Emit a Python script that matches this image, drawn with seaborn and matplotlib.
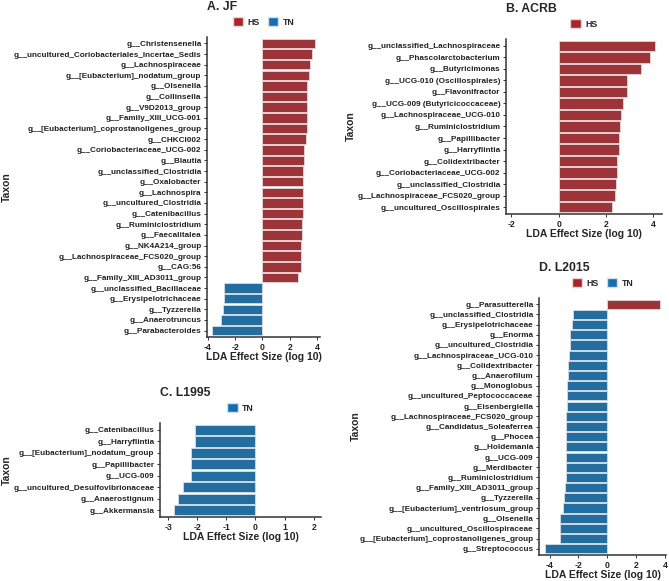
import numpy as np
import pandas as pd
import matplotlib
matplotlib.use("Agg")
import matplotlib.pyplot as plt
import seaborn as sns
from matplotlib.patches import Patch

# ── Panel data (top-to-bottom order as in figure) ─────────────────────────────
jf_taxa = [
    "g__Christensenella", "g__uncultured_Coriobacteriales_Incertae_Sedis",
    "g__Lachnospiraceae", "g__[Eubacterium]_nodatum_group", "g__Olsenella",
    "g__Collinsella", "g__V9D2013_group", "g__Family_XIII_UCG-001",
    "g__[Eubacterium]_coprostanoligenes_group", "g__CHKCI002",
    "g__Coriobacteriaceae_UCG-002", "g__Blautia", "g__unclassified_Clostridia",
    "g__Oxalobacter", "g__Lachnospira", "g__uncultured_Clostridia",
    "g__Catenibacillus", "g__Ruminiclostridium", "g__Faecalitalea",
    "g__NK4A214_group", "g__Lachnospiraceae_FCS020_group", "g__CAG:56",
    "g__Family_XIII_AD3011_group", "g__unclassified_Bacillaceae",
    "g__Erysipelotrichaceae", "g__Tyzzerella", "g__Anaerotruncus",
    "g__Parabacteroides",
]
jf_lda = [3.85, 3.61, 3.49, 3.39, 3.29, 3.29, 3.24, 3.24, 3.24, 3.17, 3.07,
          3.02, 3.01, 3.00, 2.97, 2.97, 2.95, 2.90, 2.88, 2.86, 2.84, 2.84,
          2.62, -2.79, -2.85, -2.92, -3.03, -3.69]
jf_group = ["HS"] * 23 + ["TN"] * 5

acrb_taxa = [
    "g__unclassified_Lachnospiraceae", "g__Phascolarctobacterium",
    "g__Butyricimonas", "g__UCG-010 (Oscillospirales)", "g__Flavonifractor",
    "g__UCG-009 (Butyricicoccaceae)", "g__Lachnospiraceae_UCG-010",
    "g__Ruminiclostridium", "g__Papillibacter", "g__Harryflintia",
    "g__Colidextribacter", "g__Coriobacteriaceae_UCG-002",
    "g__unclassified_Clostridia", "g__Lachnospiraceae_FCS020_group",
    "g__uncultured_Oscillospirales",
]
acrb_lda = [4.07, 3.88, 3.50, 2.91, 2.91, 2.73, 2.64, 2.61, 2.56, 2.54,
            2.47, 2.47, 2.42, 2.40, 2.27]
acrb_group = ["HS"] * 15

l1995_taxa = [
    "g__Catenibacillus", "g__Harryflintia", "g__[Eubacterium]_nodatum_group",
    "g__Papillibacter", "g__UCG-009", "g__uncultured_Desulfovibrionaceae",
    "g__Anaerostignum", "g__Akkermansia",
]
l1995_lda = [-2.07, -2.09, -2.20, -2.20, -2.23, -2.48, -2.66, -2.80]
l1995_group = ["TN"] * 8

l2015_taxa = [
    "g__Parasutterella", "g__unclassified_Clostridia", "g__Erysipelotrichaceae",
    "g__Enorma", "g__uncultured_Clostridia", "g__Lachnospiraceae_UCG-010",
    "g__Colidextribacter", "g__Anaerofilum", "g__Monoglobus",
    "g__uncultured_Peptococcaceae", "g__Eisenbergiella",
    "g__Lachnospiraceae_FCS020_group", "g__Candidatus_Soleaferrea",
    "g__Phocea", "g__Holdemania", "g__UCG-009", "g__Merdibacter",
    "g__Ruminiclostridium", "g__Family_XIII_AD3011_group", "g__Tyzzerella",
    "g__[Eubacterium]_ventriosum_group", "g__Olsenella",
    "g__uncultured_Oscillospiraceae", "g__[Eubacterium]_coprostanoligenes_group",
    "g__Streptococcus",
]
l2015_lda = [3.65, -2.39, -2.43, -2.57, -2.59, -2.66, -2.71, -2.73, -2.78,
             -2.80, -2.81, -2.84, -2.84, -2.84, -2.87, -2.87, -2.89, -2.89,
             -2.91, -2.98, -3.10, -3.26, -3.28, -3.28, -4.33]
l2015_group = ["HS"] + ["TN"] * 24

PALETTE = {"HS": "#B22126", "TN": "#0B72B9"}

sns.set_theme(style="ticks")
plt.rcParams["font.family"] = ["Liberation Sans", "DejaVu Sans"]
plt.rcParams["font.weight"] = "bold"

W, H = 669, 581
fig = plt.figure(figsize=(W / 100, H / 100), dpi=100)


def px_axes(left, right, top, bottom):
    return fig.add_axes([left / W, 1 - bottom / H, (right - left) / W, (bottom - top) / H])


def panel(taxa, lda, group, box, xlim, xticks, title, ylab_x, legend_groups):
    left, right, top, bottom = box
    ax = px_axes(left, right, top, bottom)
    df = pd.DataFrame({"taxon": taxa, "lda": lda, "group": group})
    sns.barplot(data=df, x="lda", y="taxon", hue="group", palette=PALETTE,
                order=taxa, dodge=False, width=0.9, orient="h",
                edgecolor="#dcdcdc", linewidth=0.6, legend=False, ax=ax)
    n = len(taxa)
    ax.set_ylim(n - 1 + 0.6, -0.6)
    ax.set_xlim(*xlim)
    ax.set_xticks(xticks)
    ax.set_xticklabels([str(t) for t in xticks])
    ax.set_xlabel("")
    ax.set_ylabel("")
    sns.despine(ax=ax)
    for s in ["left", "bottom"]:
        ax.spines[s].set_linewidth(1.1)
        ax.spines[s].set_color("#333333")
    ax.tick_params(axis="y", labelsize=5.9, length=2.5, width=0.7, pad=1.5, colors="#333333", labelcolor="#222222")
    ax.tick_params(axis="x", labelsize=6.2, length=2.5, width=0.7, pad=1.5, colors="#333333", labelcolor="#222222")
    for lbl in ax.get_yticklabels() + ax.get_xticklabels():
        lbl.set_fontweight("bold")

    # title, axis labels (ggplot style, title aligned to the panel)
    fig.text(left / W, 1 - (top - 30) / H, title, fontsize=8.8, fontweight="bold",
             ha="left", va="center")
    fig.text((left + right) / 2 / W, 1 - (bottom + 20) / H, "LDA Effect Size (log 10)",
             fontsize=7.5, fontweight="bold", ha="center", va="center")
    fig.text(ylab_x / W, 1 - (top + bottom) / 2 / H, "Taxon", fontsize=7.5,
             fontweight="bold", rotation=90, ha="center", va="center")

    handles = [Patch(facecolor=PALETTE[g], edgecolor="#dcdcdc", label=g) for g in legend_groups]
    fig.legend(handles=handles, loc="center",
               bbox_to_anchor=((left + right) / 2 / W, 1 - (top - 15) / H),
               ncol=len(handles), frameon=False, handlelength=1.2,
               handleheight=1.2, handletextpad=0.5, columnspacing=0.9,
               borderpad=0.1, prop={"weight": "bold", "size": 6.3})
    return ax


panel(jf_taxa, jf_lda, jf_group, (207, 320, 37, 337), (-4.07, 4.23),
      [-4, -2, 0, 2, 4], "A. JF", 7, ["HS", "TN"])
panel(acrb_taxa, acrb_lda, acrb_group, (506, 662, 39, 214), (-2.23, 4.38),
      [-2, 0, 2, 4], "B. ACRB", 351, ["HS"])
panel(l1995_taxa, l1995_lda, l1995_group, (160, 321, 423, 517), (-3.28, 2.25),
      [-3, -2, -1, 0, 1, 2], "C. L1995", 7, ["TN"])
panel(l2015_taxa, l2015_lda, l2015_group, (539, 666, 298, 555), (-4.73, 4.05),
      [-4, -2, 0, 2, 4], "D. L2015", 356, ["HS", "TN"])

fig.savefig("out.png", dpi=100)
